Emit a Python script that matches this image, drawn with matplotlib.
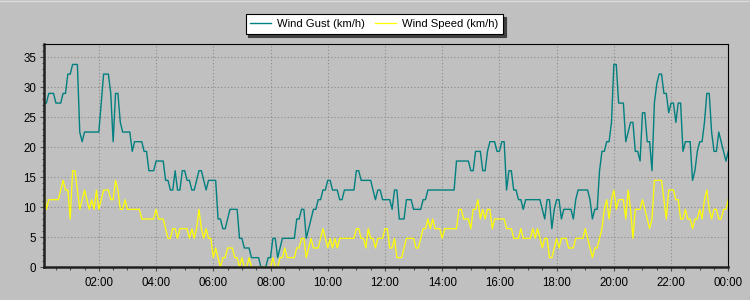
import matplotlib
matplotlib.use('Agg')
import matplotlib.pyplot as plt
import matplotlib.dates as mdates
import numpy as np
import pandas as pd

# 5-minute readings, 00:05 -> 00:00 next day; station logs whole mph
# one row per hour (12 readings each)
gust_mph = [
    17, 17, 18, 18, 18, 17, 17, 17, 18, 18, 20, 20,
    21, 21, 21, 14, 13, 14, 14, 14, 14, 14, 14, 14,
    17, 20, 20, 20, 18, 13, 18, 18, 15, 14, 14, 14,
    14, 12, 13, 13, 13, 13, 12, 12, 10, 10, 10, 11,
    11, 11, 11, 9, 9, 8, 8, 10, 8, 8, 10, 10,
    9, 9, 8, 8, 9, 10, 10, 9, 8, 9, 9, 9,
    9, 5, 5, 4, 4, 5, 6, 6, 6, 6, 3, 3,
    2, 2, 2, 1, 1, 1, 1, 0, 0, 0, 1, 1,
    3, 3, 1, 2, 3, 3, 3, 3, 3, 3, 5, 5,
    6, 6, 3, 4, 5, 6, 6, 7, 7, 8, 8, 9,
    9, 8, 8, 8, 7, 7, 8, 8, 8, 8, 8, 10,
    10, 9, 9, 9, 9, 9, 8, 7, 8, 8, 7, 7,
    7, 7, 6, 8, 8, 5, 5, 5, 7, 7, 7, 6,
    6, 6, 6, 7, 7, 8, 8, 8, 8, 8, 8, 8,
    8, 8, 8, 8, 8, 11, 11, 11, 11, 11, 11, 10,
    10, 12, 12, 12, 10, 10, 12, 13, 13, 13, 12, 12,
    13, 13, 8, 10, 10, 8, 8, 7, 7, 6, 7, 7,
    7, 7, 7, 7, 7, 6, 5, 7, 7, 4, 6, 7,
    7, 5, 6, 6, 6, 6, 5, 7, 8, 8, 8, 8,
    8, 7, 5, 6, 6, 10, 12, 12, 13, 13, 15, 21,
    21, 17, 17, 17, 13, 14, 15, 15, 12, 12, 11, 16,
    16, 13, 13, 10, 17, 19, 20, 20, 18, 18, 16, 17,
    17, 15, 17, 17, 12, 13, 13, 13, 9, 10, 12, 13,
    13, 15, 18, 18, 14, 12, 12, 14, 13, 12, 11, 12,
]

speed_mph = [
    8, 6, 7, 7, 7, 7, 7, 8, 9, 8, 8, 5,
    10, 10, 8, 6, 7, 8, 7, 6, 7, 6, 8, 6,
    7, 8, 8, 8, 7, 7, 9, 8, 6, 6, 7, 6,
    6, 6, 6, 6, 6, 5, 5, 5, 5, 5, 5, 6,
    5, 5, 5, 4, 3, 3, 4, 4, 3, 4, 4, 4,
    4, 3, 4, 3, 4, 6, 4, 3, 4, 3, 3, 1,
    2, 1, 0, 1, 1, 2, 2, 2, 1, 1, 0, 1,
    0, 0, 1, 0, 0, 0, 0, 0, 0, 0, 0, 0,
    1, 0, 0, 1, 1, 2, 1, 1, 1, 1, 2, 2,
    3, 3, 1, 2, 3, 2, 2, 2, 3, 4, 3, 2,
    3, 2, 3, 2, 3, 3, 3, 3, 3, 3, 3, 4,
    4, 3, 3, 2, 4, 3, 3, 2, 3, 3, 3, 4,
    4, 2, 2, 3, 1, 1, 1, 2, 3, 3, 3, 3,
    2, 2, 3, 4, 4, 5, 4, 5, 4, 4, 4, 3,
    4, 4, 4, 4, 4, 4, 6, 6, 5, 5, 5, 4,
    6, 6, 7, 5, 6, 5, 6, 6, 4, 5, 5, 5,
    5, 5, 4, 4, 4, 3, 3, 3, 4, 3, 3, 3,
    3, 4, 3, 4, 3, 2, 3, 3, 1, 1, 2, 3,
    2, 3, 3, 3, 2, 2, 2, 3, 3, 3, 3, 4,
    3, 2, 1, 2, 2, 3, 4, 6, 7, 5, 7, 8,
    6, 7, 7, 7, 5, 8, 6, 3, 6, 6, 6, 7,
    6, 5, 4, 5, 9, 9, 9, 9, 7, 5, 8, 8,
    8, 7, 7, 5, 5, 6, 5, 5, 4, 5, 5, 6,
    5, 7, 8, 6, 5, 6, 6, 5, 5, 6, 6, 7,
]

MPH_TO_KMH = 1.609344
times = pd.date_range('2024-01-01 00:05', periods=len(gust_mph), freq='5min')
gust = np.array(gust_mph) * MPH_TO_KMH
speed = np.array(speed_mph) * MPH_TO_KMH

plt.rcParams['font.family'] = ['Liberation Sans', 'DejaVu Sans']
plt.rcParams['font.size'] = 8

bg = '#c0c0c0'
fig = plt.figure(figsize=(7.5, 3), dpi=100, facecolor=bg)
ax = fig.add_axes([44 / 750, 32.7 / 300, 684.3 / 750, 223.3 / 300])
ax.set_facecolor(bg)

ax.plot(times, gust, color='#008080', lw=1.0, label='Wind Gust (km/h)')
ax.plot(times, speed, color='#ffff00', lw=0.9, label='Wind Speed (km/h)')

ax.set_xlim(times[0], times[-1])
ax.set_ylim(0, 37.2)

ax.xaxis.set_major_locator(mdates.HourLocator(byhour=range(0, 24, 2)))
ax.xaxis.set_major_formatter(mdates.DateFormatter('%H:%M'))
ax.xaxis.set_minor_locator(mdates.MinuteLocator(byminute=[0, 30]))
ax.set_yticks(range(0, 36, 5))
ax.yaxis.set_minor_locator(matplotlib.ticker.MultipleLocator(1))

ax.grid(True, which='major', color='#8a8a8a', linestyle=(0, (1, 2)), lw=0.8)

ax.tick_params(which='major', length=3, width=0.8, color='#505050', pad=2.5, labelcolor='black', labelsize=8.3)
ax.tick_params(which='minor', length=1.8, width=0.8, color='#505050')
ax.tick_params(axis='x', which='major', pad=4)

for side in ['left', 'bottom']:
    ax.spines[side].set_linewidth(1.8)
    ax.spines[side].set_color('#202020')
for side in ['top', 'right']:
    ax.spines[side].set_linewidth(0.8)
    ax.spines[side].set_color('black')

leg = fig.legend(loc='center', bbox_to_anchor=(374.5 / 750, 1 - 24 / 300), ncol=2,
                 frameon=True, fancybox=False, shadow={'color': '#404040', 'alpha': 1},
                 fontsize=8.1, handlelength=1.8, handletextpad=0.6, columnspacing=0.9,
                 borderpad=0.42)
leg.get_frame().set_edgecolor('black')
leg.get_frame().set_linewidth(0.8)
leg.get_frame().set_facecolor('white')

# light top edge of the panel
fig.add_artist(plt.Line2D([0, 1], [1 - 0.5 / 300, 1 - 0.5 / 300], color='#dcdcdc', lw=1,
                          transform=fig.transFigure))

fig.savefig('out.png', dpi=100, facecolor=bg)
